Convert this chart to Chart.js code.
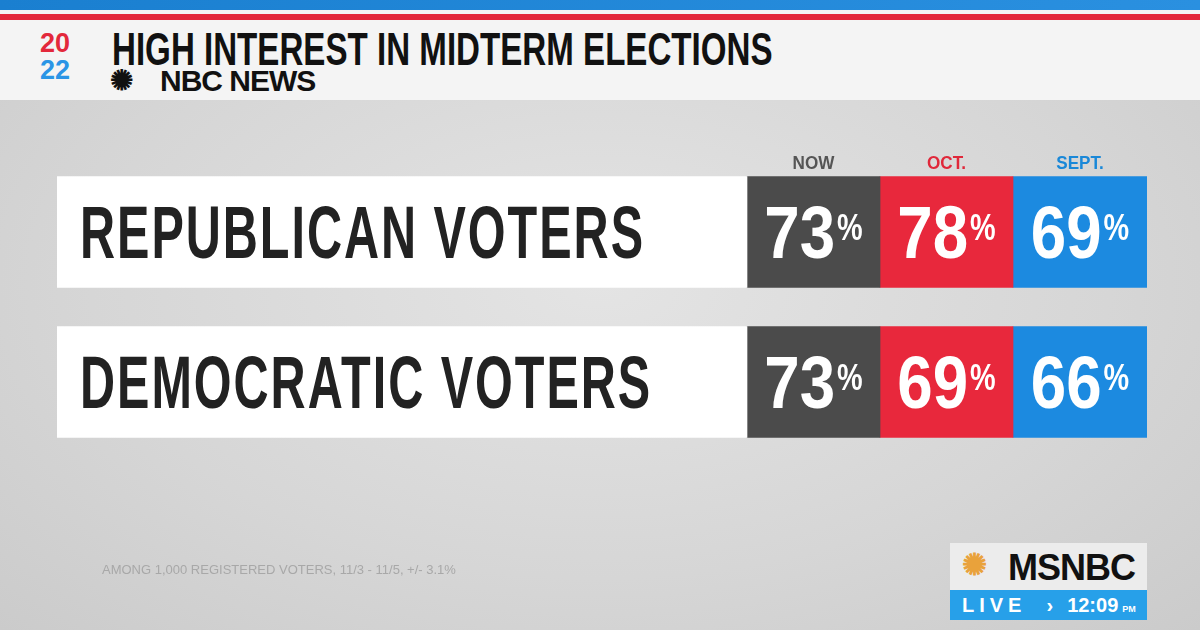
<!DOCTYPE html>
<html><head><meta charset="utf-8">
<script src="https://cdn.jsdelivr.net/npm/chart.js@4"></script>
<style>
html,body{margin:0;padding:0;width:1200px;height:630px;overflow:hidden;font-family:"Liberation Sans Narrow","Liberation Sans",sans-serif;}
#bg{position:absolute;left:0;top:0;width:1200px;height:630px;background:radial-gradient(ellipse at 50% 45%,#e4e4e4 0%,#d6d6d6 60%,#cbcbcb 100%);}
#hdr{position:absolute;left:0;top:0;width:1200px;height:100px;background:#f4f4f4;}
#s1{position:absolute;left:0;top:0;width:1200px;height:10px;background:linear-gradient(90deg,#1a7fd0,#2a90e0);}
#s2{position:absolute;left:0;top:14px;width:1200px;height:6px;background:#e3283b;}
#title{position:absolute;left:112px;top:22px;font-weight:bold;font-size:46px;color:#111;transform:scaleX(0.72);transform-origin:left top;white-space:nowrap;}
#nbc{position:absolute;left:160px;top:64px;font-family:"Liberation Sans",sans-serif;font-weight:bold;font-size:30px;color:#111;letter-spacing:-1px;}
#yr{position:absolute;left:40px;top:30px;font-family:"Liberation Sans",sans-serif;font-weight:bold;font-size:27px;line-height:27px;}
#cv{position:absolute;left:0;top:0;}
#foot{position:absolute;left:102px;top:562px;font-family:"Liberation Sans",sans-serif;font-size:13px;color:#a8a8a8;}
#logo{position:absolute;left:950px;top:543px;width:197px;height:47px;background:#ececec;}
#logo span{position:absolute;left:58px;top:4px;font-family:"Liberation Sans",sans-serif;font-weight:bold;font-size:36px;color:#111;letter-spacing:-1px;}
#live{position:absolute;left:950px;top:590px;width:197px;height:30px;background:#27a0e9;color:#fff;font-family:"Liberation Sans",sans-serif;font-weight:bold;font-size:20px;line-height:30px;}
</style></head><body>
<div id="bg"></div>
<div id="hdr"></div><div id="s1"></div><div id="s2"></div>
<div id="yr"><span style="color:#e3283b">20</span><br><span style="color:#2a95e6">22</span></div>
<div id="title">HIGH INTEREST IN MIDTERM ELECTIONS</div>
<div id="nbc"><span style="position:absolute;left:-50px;top:0;font-size:28px">✺</span>NBC NEWS</div>
<canvas id="cv" width="1200" height="630"></canvas>
<div id="foot">AMONG 1,000 REGISTERED VOTERS, 11/3 - 11/5, +/- 3.1%</div>
<div id="logo"><span style="left:12px;font-size:30px;color:#e9a23b">✺</span><span>MSNBC</span></div>
<div id="live"><span style="margin-left:12px;letter-spacing:5px">LIVE</span><span style="margin-left:20px">›</span><span style="margin-left:14px">12:09</span><span style="font-size:9px;margin-left:4px">PM</span></div>
<script>
const categories = ["REPUBLICAN VOTERS", "DEMOCRATIC VOTERS"];
const columnLabels = ["NOW", "OCT.", "SEPT."];
const nowValues = [73, 73];
const octValues = [78, 69];
const septValues = [69, 66];

const colColors = ["#4b4b4b", "#e8283c", "#1c8ae0"];
const headColors = ["#555555", "#e0283a", "#1a88d8"];
const cellW = [690, 133, 133, 134];
const series = [nowValues, octValues, septValues];

const datasets = [{label: "label", data: categories.map(() => cellW[0]), backgroundColor: "#ffffff"}];
series.forEach((s, i) => datasets.push({label: columnLabels[i], data: s.map(() => cellW[i + 1]), backgroundColor: colColors[i], values: s}));

const textPlugin = {
  id: "txt",
  afterDatasetsDraw(chart) {
    const ctx = chart.ctx;
    const F = '"Liberation Sans Narrow", "Liberation Sans", sans-serif';
    const m0 = chart.getDatasetMeta(0);
    ctx.save();
    ctx.font = "bold 74px " + F;
    if ("letterSpacing" in ctx) ctx.letterSpacing = "3px";
    const sx = 565 / ctx.measureText(categories[0]).width;
    m0.data.forEach((b, i) => {
      ctx.save();
      ctx.fillStyle = "#222";
      ctx.translate(80, b.y + 26);
      ctx.scale(sx, 1);
      ctx.fillText(categories[i], 0, 0);
      ctx.restore();
    });
    if ("letterSpacing" in ctx) ctx.letterSpacing = "0px";
    for (let d = 1; d <= 3; d++) {
      const meta = chart.getDatasetMeta(d);
      const vals = chart.data.datasets[d].values;
      meta.data.forEach((b, i) => {
        const left = b.base, right = b.x, cx = (left + right) / 2;
        ctx.save();
        ctx.fillStyle = "#fff";
        ctx.font = "bold 74px " + F;
        const num = String(vals[i]);
        const nw = ctx.measureText(num).width * 0.86;
        ctx.font = "bold 36px " + F;
        const pw = ctx.measureText("%").width * 0.8;
        const x0 = cx - (nw + pw + 2) / 2;
        ctx.save(); ctx.translate(x0, b.y + 26); ctx.scale(0.86, 1);
        ctx.font = "bold 74px " + F; ctx.fillText(num, 0, 0); ctx.restore();
        ctx.save(); ctx.translate(x0 + nw + 2, b.y + 8); ctx.scale(0.8, 1);
        ctx.font = "bold 36px " + F; ctx.fillText("%", 0, 0); ctx.restore();
        ctx.restore();
        if (i === 0) {
          ctx.save();
          ctx.fillStyle = headColors[d - 1];
          ctx.font = "bold 19px " + F;
          ctx.textAlign = "center";
          ctx.translate(cx, b.y - 63);
          ctx.scale(0.9, 1);
          ctx.fillText(columnLabels[d - 1], 0, 0);
          ctx.restore();
        }
      });
    }
    ctx.restore();
  }
};

new Chart(document.getElementById("cv"), {
  type: "bar",
  data: {labels: categories, datasets},
  options: {
    indexAxis: "y",
    responsive: false,
    animation: false,
    layout: {padding: {left: 57, right: 53, top: 157, bottom: 173}},
    datasets: {bar: {barThickness: 111, borderWidth: 0}},
    scales: {
      x: {stacked: true, display: false, min: 0, max: 1090},
      y: {stacked: true, display: false}
    },
    plugins: {legend: {display: false}, tooltip: {enabled: false}}
  },
  plugins: [textPlugin]
});
</script>
</body></html>
